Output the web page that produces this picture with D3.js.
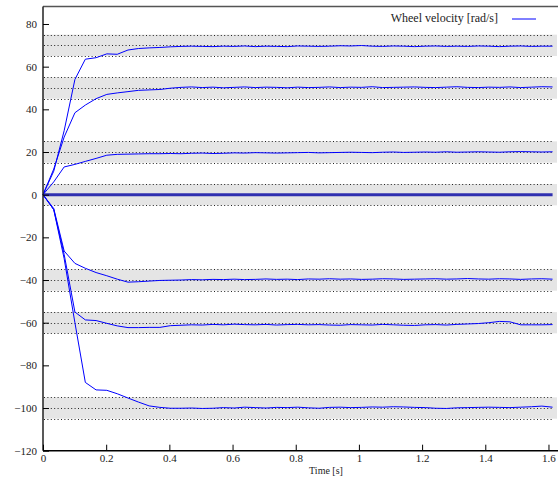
<!DOCTYPE html>
<html>
<head>
<meta charset="utf-8">
<script src="https://cdn.jsdelivr.net/npm/d3@7"></script>
<style>
  body { margin: 0; background: #fff; }
  svg text { font-family: "Liberation Serif", "DejaVu Serif", serif; fill: #222; }
</style>
</head>
<body>
<div id="chart"></div>
<script>
// sample times [s]
var times = [0, 0.034, 0.067, 0.101, 0.134, 0.168, 0.202, 0.235, 0.269, 0.302, 0.336, 0.370, 0.403,
  0.437, 0.470, 0.504, 0.538, 0.571, 0.605, 0.638, 0.672, 0.706, 0.739, 0.773, 0.806, 0.840,
  0.874, 0.907, 0.941, 0.974, 1.008, 1.042, 1.075, 1.109, 1.142, 1.176, 1.210, 1.243, 1.277,
  1.310, 1.344, 1.378, 1.411, 1.445, 1.478, 1.512, 1.546, 1.579, 1.613];

// target velocities (grey bands = target +/- 5)
var targets = [70, 50, 20, 0, -40, -60, -100];

// measured wheel velocities [rad/s]
var wheel70 = [0, 11, 30, 54, 63.5, 64.2, 66, 65.8, 67.8, 68.5, 68.8, 69.0, 69.3, 69.5, 69.6, 69.5,
  69.4, 69.6, 69.5, 69.7, 69.4, 69.6, 69.5, 69.4, 69.7, 69.6, 69.5, 69.6, 69.8, 69.7, 69.9, 69.6,
  69.5, 69.7, 69.6, 69.4, 69.6, 69.7, 69.5, 69.6, 69.5, 69.7, 69.6, 69.4, 69.6, 69.7, 69.5, 69.6, 69.6];
var wheel50 = [0, 12, 27, 38.4, 42, 45, 47, 47.7, 48.3, 48.9, 49.1, 49.3, 49.9, 50.3, 50.5, 50.2,
  50.4, 50.1, 50.3, 50.5, 50.2, 50.4, 50.3, 50.1, 50.4, 50.2, 50.3, 50.5, 50.2, 50.4, 50.3, 50.6,
  50.2, 50.3, 50.4, 50.5, 50.3, 50.2, 50.4, 50.6, 50.3, 50.2, 50.4, 50.3, 50.5, 50.2, 50.4, 50.6, 50.5];
var wheel20 = [0, 6, 13, 14.2, 15.6, 17, 18.5, 18.9, 19, 19.1, 19.2, 19.2, 19.3, 19.2, 19.4, 19.5,
  19.3, 19.4, 19.6, 19.5, 19.7, 19.6, 19.5, 19.6, 19.7, 19.8, 19.6, 19.7, 19.8, 19.9, 19.8, 19.7,
  19.9, 20, 19.8, 19.9, 20, 19.9, 20.1, 19.9, 20, 20.1, 20, 19.9, 20.1, 20.2, 20.1, 20, 20.1];
var wheel0 = [0, 0, 0, 0, 0, 0, 0, 0, 0, 0, 0, 0, 0, 0, 0, 0, 0, 0, 0, 0, 0, 0, 0, 0, 0,
  0, 0, 0, 0, 0, 0, 0, 0, 0, 0, 0, 0, 0, 0, 0, 0, 0, 0, 0, 0, 0, 0, 0, 0];
var wheelM40 = [0, -6.5, -26.4, -32.2, -34.5, -36.5, -38, -39.6, -41, -40.8, -40.5, -40.2, -40.1,
  -40.0, -39.8, -39.9, -39.7, -39.8, -39.6, -39.8, -39.7, -39.5, -39.7, -39.6, -39.8, -39.5, -39.6,
  -39.4, -39.6, -39.5, -39.7, -39.6, -39.4, -39.5, -39.7, -39.6, -39.5, -39.4, -39.6, -39.5, -39.3,
  -39.5, -39.6, -39.4, -39.5, -39.7, -39.5, -39.4, -39.6];
var wheelM60 = [0, -7, -28, -55, -58.7, -59, -60.3, -61.5, -62.3, -62.3, -62.2, -62.2, -61.4,
  -61.2, -61.0, -61.1, -60.8, -61.0, -60.7, -60.9, -61.0, -60.8, -61.1, -60.9, -60.8, -61.0, -60.9,
  -61.1, -61.2, -60.9, -61.0, -61.1, -60.8, -61.0, -61.2, -61.3, -61.0, -60.9, -61.1, -60.8, -60.6,
  -60.4, -60.0, -59.4, -59.6, -61.0, -61.0, -61.0, -60.9];
var wheelM100 = [0, -7, -30, -60, -88, -91.5, -91.7, -93.3, -95.3, -97.2, -99, -99.7, -100.1,
  -100.1, -100.0, -100.2, -100.1, -99.8, -100.0, -99.6, -99.8, -100.0, -99.7, -99.8, -99.6, -99.9,
  -100.1, -99.7, -99.6, -99.8, -99.7, -99.5, -99.6, -99.4, -99.5, -99.7, -99.8, -100.1, -100.2,
  -99.9, -99.8, -99.7, -99.6, -99.7, -99.8, -99.6, -99.4, -99.1, -99.6];

var series = [wheel70, wheel50, wheel20, wheelM40, wheelM60, wheelM100];

var xTicks = [0, 0.2, 0.4, 0.6, 0.8, 1, 1.2, 1.4, 1.6];
var yTicks = [-120, -100, -80, -60, -40, -20, 0, 20, 40, 60, 80];

var W = 559, H = 478;
var plotL = 43, plotR = 557, plotT = 6.5, plotB = 450.7;
var serif = "Liberation Serif, DejaVu Serif, serif";

var svg = d3.select("#chart").append("svg")
  .attr("width", W)
  .attr("height", H);

var x = d3.scaleLinear().domain([0, 1.627]).range([plotL, plotR]);
var y = d3.scaleLinear().domain([-120, 88.2]).range([plotB, plotT]);

// grey tolerance bands
svg.append("g").selectAll("rect")
  .data(targets)
  .enter().append("rect")
  .attr("x", plotL)
  .attr("width", plotR - plotL)
  .attr("y", d => y(d + 5))
  .attr("height", d => y(d - 5) - y(d + 5))
  .attr("fill", "#e5e5e5");

// dotted reference lines (target and +/- 5)
var refs = [];
targets.forEach(function (t) { refs.push(t + 5, t, t - 5); });
svg.append("g").selectAll("line")
  .data(refs)
  .enter().append("line")
  .attr("x1", x(0) + 1)
  .attr("x2", x(times[times.length - 1]))
  .attr("y1", d => Math.round(y(d)) + 0.5)
  .attr("y2", d => Math.round(y(d)) + 0.5)
  .attr("stroke", "#222")
  .attr("stroke-width", 1)
  .attr("stroke-dasharray", "1,2.4");

var line = d3.line()
  .x((d, i) => x(times[i]))
  .y(d => y(d));

// zero wheel (several overlapping traces -> thicker)
svg.append("path")
  .datum(wheel0)
  .attr("d", line)
  .attr("fill", "none")
  .attr("stroke", "#3030b0")
  .attr("stroke-width", 3);

svg.append("g").selectAll("path")
  .data(series)
  .enter().append("path")
  .attr("d", line)
  .attr("fill", "none")
  .attr("stroke", "#0000ff")
  .attr("stroke-width", 1)
  .attr("stroke-linejoin", "round");

// top frame line
svg.append("line")
  .attr("x1", plotL).attr("x2", plotR + 1)
  .attr("y1", plotT).attr("y2", plotT)
  .attr("stroke", "#555").attr("stroke-width", 1.5);

// axes
var yAxis = svg.append("g")
  .attr("transform", "translate(" + plotL + ",0)")
  .call(d3.axisLeft(y).tickValues(yTicks).tickSizeInner(-6).tickSizeOuter(0).tickPadding(6))
  .attr("font-family", serif)
  .attr("font-size", 11);
yAxis.select(".domain").attr("d", "M0," + plotT + "V" + plotB).attr("stroke", "#222").attr("stroke-width", 1.5);

var xAxis = svg.append("g")
  .attr("transform", "translate(0," + plotB + ")")
  .call(d3.axisBottom(x).tickValues(xTicks).tickSizeInner(-6).tickSizeOuter(0).tickPadding(4)
    .tickFormat(d => String(+d.toFixed(1))))
  .attr("font-family", serif)
  .attr("font-size", 11);
xAxis.select(".domain").attr("d", "M" + plotL + ",0H" + (plotR + 1)).attr("stroke-width", 1.5);

svg.append("text")
  .attr("x", 326)
  .attr("y", 474)
  .attr("text-anchor", "middle")
  .style("font-size", "10px")
  .text("Time [s]");

// legend
svg.append("text")
  .attr("x", 498)
  .attr("y", 22)
  .attr("text-anchor", "end")
  .style("font-size", "12px")
  .text("Wheel velocity [rad/s]");
svg.append("line")
  .attr("x1", 512).attr("x2", 536)
  .attr("y1", 19).attr("y2", 19)
  .attr("stroke", "#0000ff").attr("stroke-width", 1);
</script>
</body>
</html>
